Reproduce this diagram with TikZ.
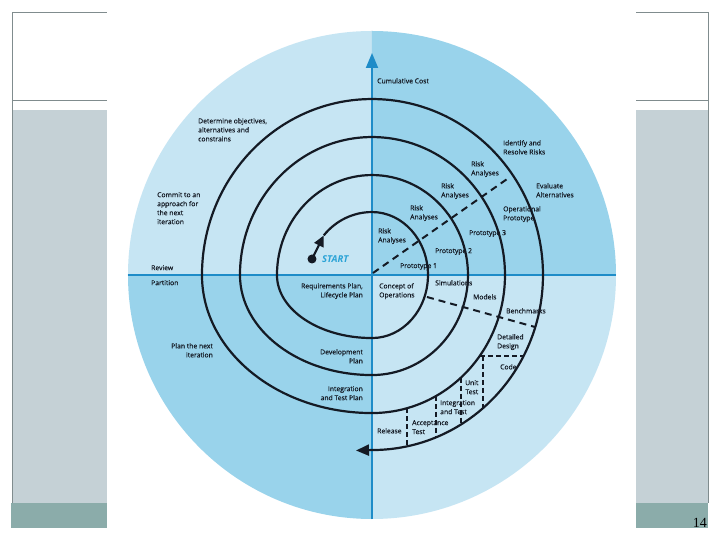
\documentclass[tikz,border=0pt]{standalone}
\usepackage{fontspec}
\setmainfont{Open Sans}
\newfontfamily\lblfam{Open Sans}[FakeBold=0.5]
\newfontfamily\numfont{Liberation Serif}
\usetikzlibrary{arrows.meta}
\definecolor{qlight}{HTML}{C6E5F3}
\definecolor{qdark}{HTML}{99D3EB}
\definecolor{axisblue}{HTML}{1E8CC8}
\definecolor{startblue}{HTML}{2BA3D6}
\definecolor{panelgray}{HTML}{C5D1D6}
\definecolor{panelteal}{HTML}{8BACAA}
\definecolor{panelline}{HTML}{808C8E}
\definecolor{ink}{HTML}{141A24}
\newcommand\lblfont{\lblfam\fontsize{6.8}{9}\selectfont}
\begin{document}
\begin{tikzpicture}[x=1pt,y=1pt,
 lbl/.style={font=\lblfont, inner sep=0pt, align=left, anchor=north west, text=ink},
 rlbl/.style={lbl, align=right, anchor=north east},
 spiral/.style={draw=ink, line width=2.2pt},
 bigdash/.style={draw=ink, line width=2pt, dash pattern=on 7pt off 5pt},
 smalldash/.style={draw=ink, line width=1.3pt, dash pattern=on 5pt off 3pt},
 axis/.style={draw=axisblue, line width=1.8pt},
 pline/.style={draw=panelline, line width=0.9pt}]
\useasboundingbox[fill=white] (-372,-265) rectangle (348,275);
% side panels
\fill[panelgray] (-360,165) rectangle (-265,-228);
\fill[panelteal] (-361,-228) rectangle (-265,-253);
\draw[pline] (-265,263) -- (-360,263) -- (-360,-228);
\draw[pline] (-360,175) -- (-265,175);
\fill[panelgray] (264,165) rectangle (336,-230);
\fill[panelteal] (264,-228) rectangle (336,-253);
\draw[pline] (264,263) -- (336,263) -- (336,-228);
\draw[pline] (264,175) -- (336,175);
\node[anchor=base east, inner sep=0pt, font=\numfont\fontsize{14}{14}\selectfont] (pagenum) at (335,-252) {14};
% quadrants
\fill[qlight] (0,0) -- (-244,0) arc[start angle=180, end angle=90, radius=244] -- cycle;
\fill[qdark] (0,0) -- (0,244) arc[start angle=90, end angle=0, radius=244] -- cycle;
\fill[qlight] (0,0) -- (244,0) arc[start angle=0, end angle=-90, radius=244] -- cycle;
\fill[qdark] (0,0) -- (0,-244) arc[start angle=-90, end angle=-180, radius=244] -- cycle;
% axes
\draw[axis] (-244,0) -- (244,0);
\draw[axis, -{Triangle[length=15pt,width=12pt]}] (0,-244) -- (0,222);
% start
\fill[ink] (-60,16) circle[radius=4.5];
\coordinate (startdot) at (-60,16);
\coordinate (s) at (-48.2,39.6);
\draw[spiral, -{Triangle[length=11pt,width=10pt]}] (startdot) -- (s);
% spiral
\draw[spiral, -{Triangle[length=13pt,width=11pt]}] (s)
  arc[start angle=141, end angle=90, x radius=62, y radius=63]
  arc[start angle=90, end angle=0, x radius=56, y radius=63]
  arc[start angle=0, end angle=-90, x radius=56, y radius=63]
  arc[start angle=-90, end angle=-180, x radius=95, y radius=63]
  arc[start angle=180, end angle=90, x radius=95, y radius=100]
  arc[start angle=90, end angle=0, x radius=96, y radius=100]
  arc[start angle=0, end angle=-90, x radius=96, y radius=100]
  arc[start angle=-90, end angle=-180, x radius=132, y radius=100]
  arc[start angle=180, end angle=90, x radius=132, y radius=138]
  arc[start angle=90, end angle=0, x radius=133, y radius=138]
  arc[start angle=0, end angle=-90, x radius=133, y radius=138]
  arc[start angle=-90, end angle=-180, x radius=170, y radius=138]
  arc[start angle=180, end angle=90, x radius=170, y radius=176]
  arc[start angle=90, end angle=0, x radius=171, y radius=176]
  arc[start angle=0, end angle=-90, x radius=171, y radius=175]
  -- (-16,-175.5);
% dashed lines
\draw[bigdash] (1,2) -- (138,98);
\draw[bigdash] (55,-22) -- (163,-52);
\draw[smalldash] (108,-81) -- (152,-81);
\draw[smalldash] (111,-81) -- (111,-133);
\draw[smalldash] (89,-102.6) -- (89,-149.4);
\draw[smalldash] (64,-121) -- (64,-162.3);
\draw[smalldash] (35,-133.1) -- (35,-171.3);
% labels upper left
\node[lbl] (determine) at (-174,157) {Determine objectives,\\alternatives and\\constrains};
\node[lbl] (commit) at (-215,83) {Commit to an\\approach for\\the next\\iteration};
\node[lbl] (review) at (-221,10) {Review};
\node[lbl] (partition) at (-221,-5) {Partition};
\node[anchor=west, inner sep=0pt, font=\fontsize{9.5}{9.5}\selectfont\bfseries\itshape, text=startblue] (startlbl) at (-50,16) {START};
% labels upper right
\node[lbl] (cumcost) at (5,197) {Cumulative Cost};
\node[lbl] (identify) at (131,135) {Identify and\\Resolve Risks};
\node[lbl] (risk1) at (99,114) {Risk\\Analyses};
\node[lbl] (risk2) at (69,92) {Risk\\Analyses};
\node[lbl] (risk3) at (38,70) {Risk\\Analyses};
\node[lbl] (risk4) at (6,47) {Risk\\Analyses};
\node[lbl] (evaluate) at (164,92) {Evaluate\\Alternatives};
\node[lbl] (opproto) at (131,69) {Operational\\Prototype};
\node[lbl] (proto3) at (97,45) {Prototype 3};
\node[lbl] (proto2) at (63,27) {Prototype 2};
\node[lbl] (proto1) at (28,12) {Prototype 1};
% labels lower left
\node[rlbl] (reqplan) at (-9,-8) {Requirements Plan,\\Lifecycle Plan};
\node[rlbl] (devplan) at (-9,-74) {Development\\Plan};
\node[rlbl] (intplan) at (-9,-111) {Integration\\and Test Plan};
\node[rlbl] (plannext) at (-159,-68) {Plan the next\\iteration};
% labels lower right
\node[lbl] (concept) at (7,-8) {Concept of\\Operations};
\node[lbl] (simul) at (63,-5) {Simulations};
\node[lbl] (models) at (101,-19) {Models};
\node[lbl] (bench) at (134,-33) {Benchmarks};
\node[lbl] (detailed) at (125,-59) {Detailed\\Design};
\node[lbl] (code) at (128,-89) {Code};
\node[lbl, align=center] (unit) at (93,-105) {Unit\\Test};
\node[lbl] (inttest) at (68,-125) {Integration\\and Test};
\node[lbl] (accept) at (40,-145) {Acceptance\\Test};
\node[lbl] (release) at (5,-153) {Release};
\end{tikzpicture}
\end{document}
